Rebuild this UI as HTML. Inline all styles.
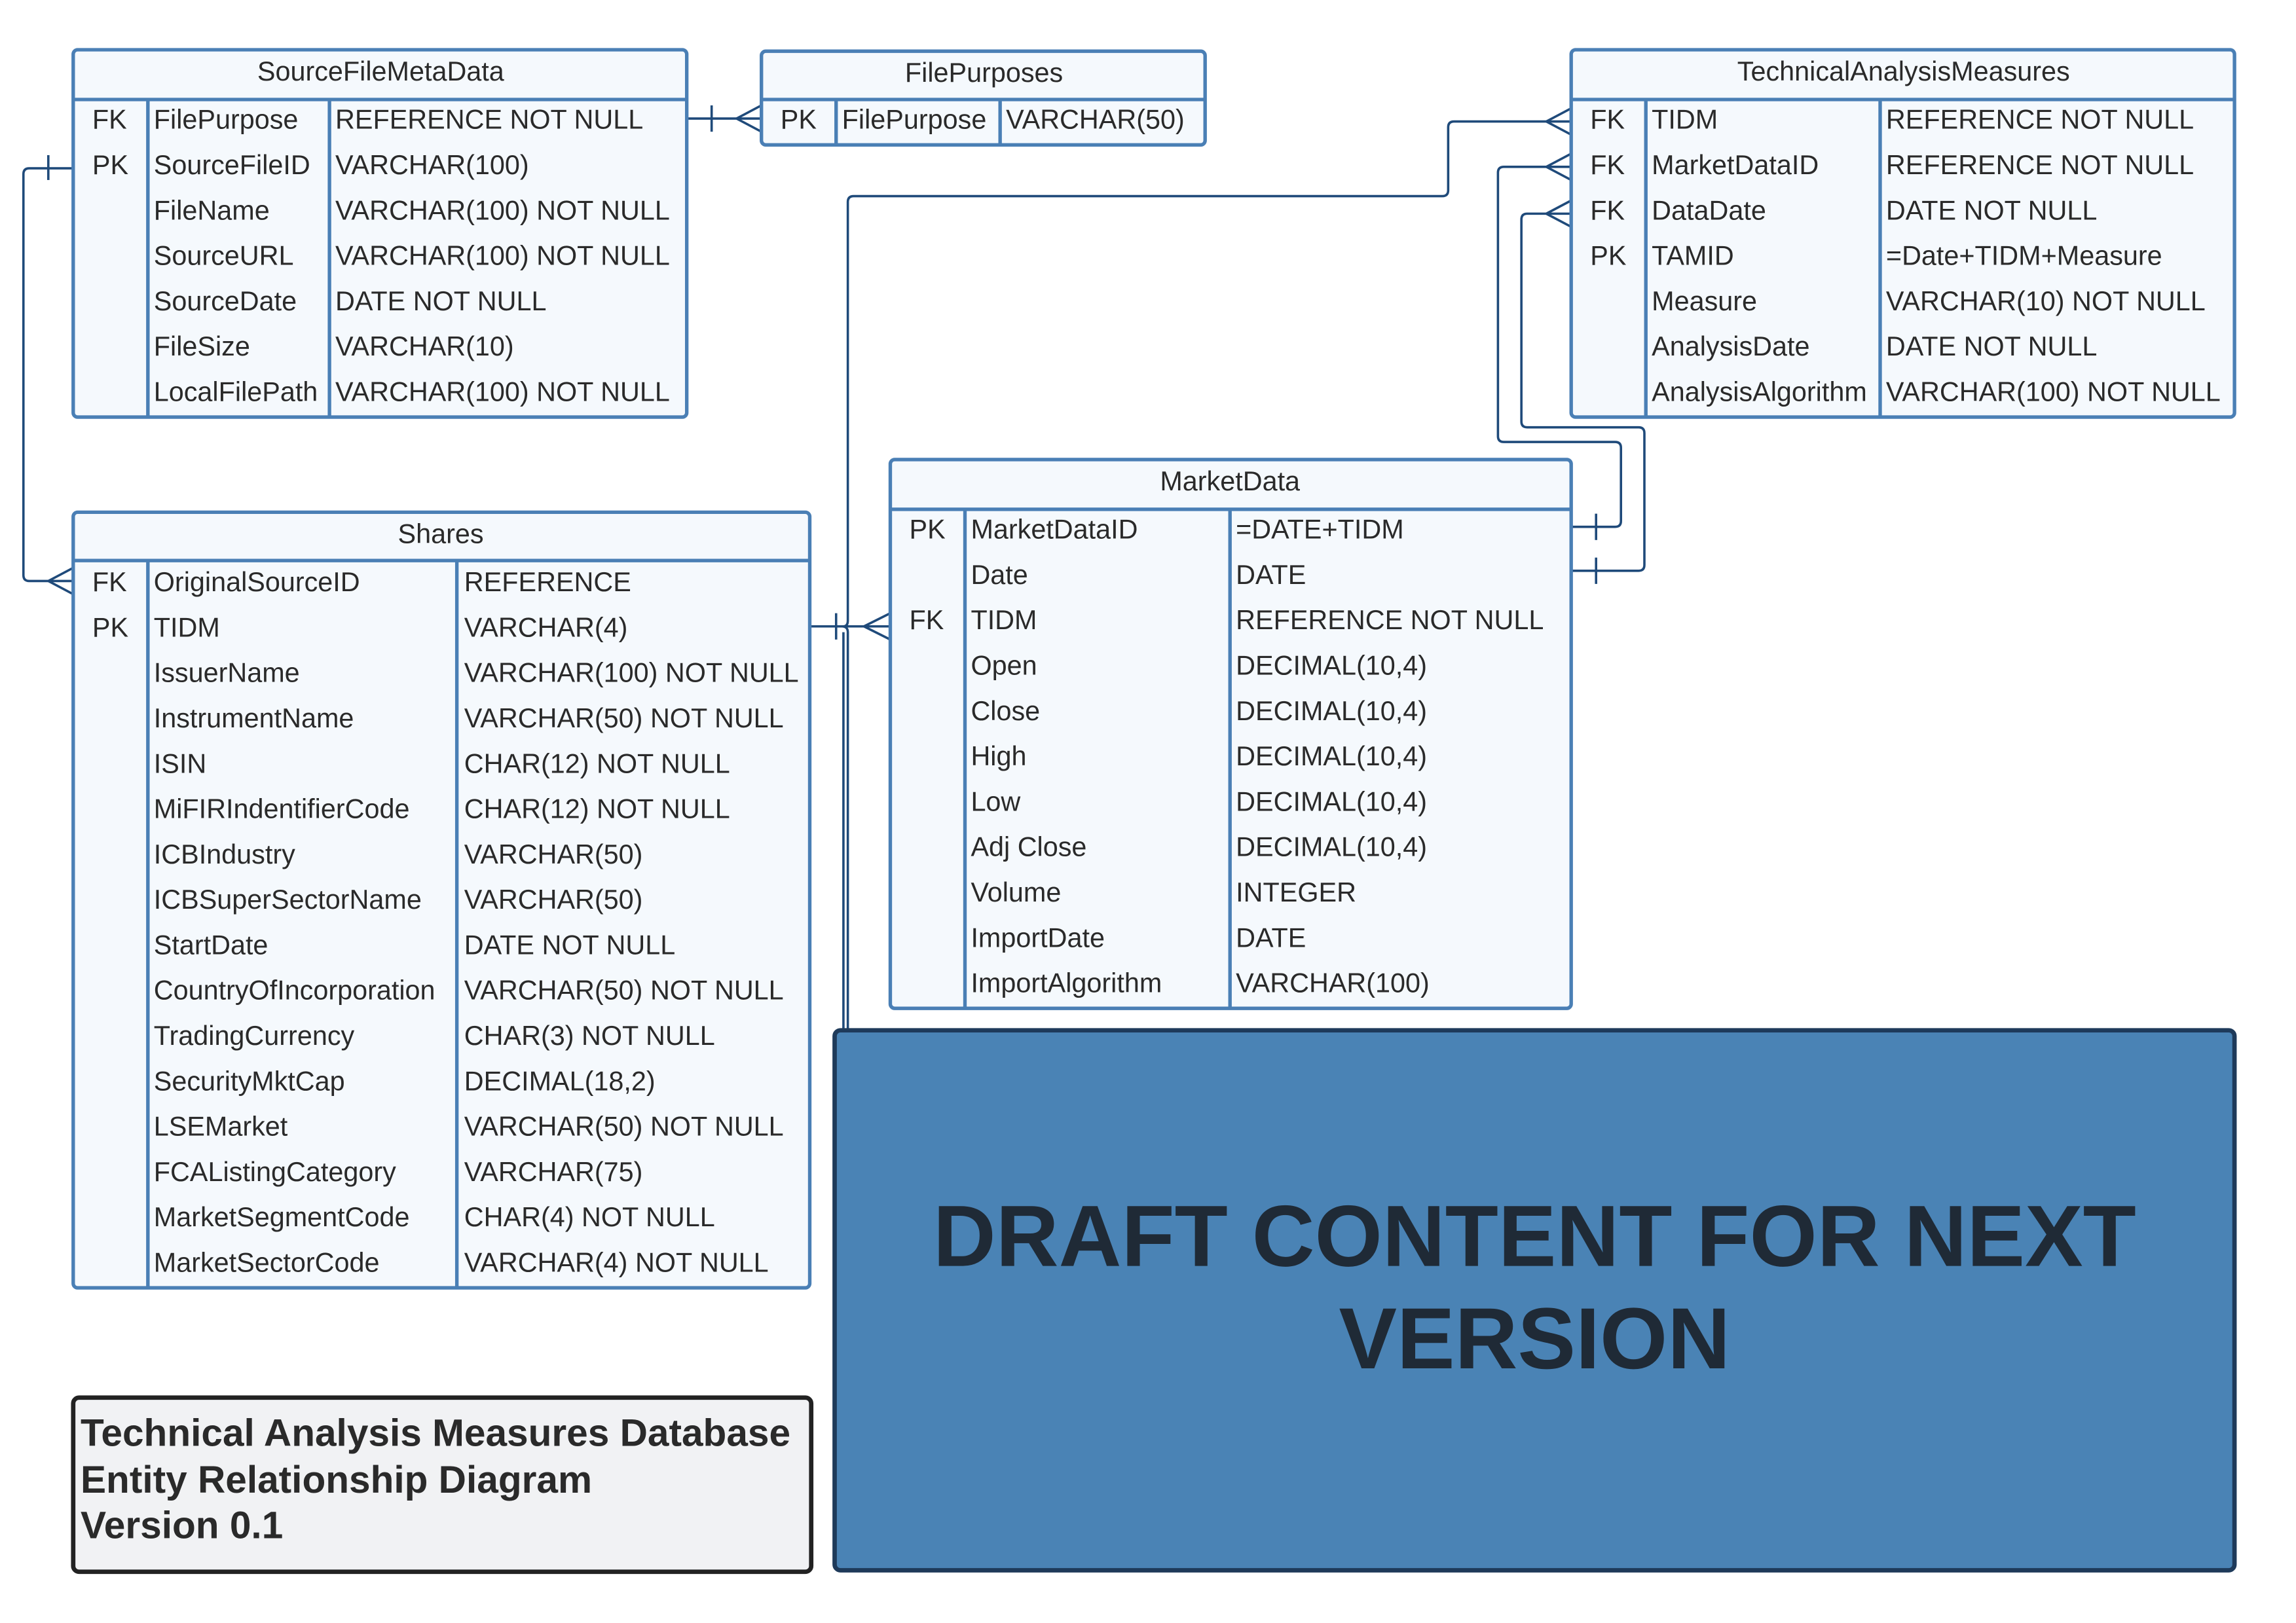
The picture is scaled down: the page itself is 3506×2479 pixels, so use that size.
<!DOCTYPE html>
<html><head><meta charset="utf-8"><style>
html,body{margin:0;padding:0;background:#fff;}
svg{display:block;}
text{font-family:"Liberation Sans",sans-serif;fill:#2a2a2a;}
</style></head><body>
<svg width="3506" height="2479" viewBox="0 0 1568 1109" preserveAspectRatio="none" xmlns="http://www.w3.org/2000/svg">
<g fill="none" stroke="#1f4a7a" stroke-width="1.6">
<path d="M469 81 H520"/><path d="M486 72 V90"/><path d="M503 81 L520 72 M503 81 L520 90"/>
<path d="M50 115 H20 Q16 115 16 119 V393 Q16 397 20 397 H50"/><path d="M33 106 V123"/><path d="M33 397 L50 388 M33 397 L50 406"/>
<path d="M553 428 H608"/><path d="M571 419 V437"/><path d="M590 428 L608 419 M590 428 L608 437"/>
<path d="M575 428 Q579 428 579 432 V704"/><path d="M576 432 V704"/>
<path d="M576 428 Q579 428 579 424 V138 Q579 134 583 134 H985 Q989 134 989 130 V87 Q989 83 993 83 H1073"/>
<path d="M1056 83 L1073 74 M1056 83 L1073 92"/>
<path d="M1073 360 H1103 Q1107 360 1107 356 V306 Q1107 302 1103 302 H1027 Q1023 302 1023 298 V118 Q1023 114 1027 114 H1073"/>
<path d="M1090 351 V369"/><path d="M1056 114 L1073 105 M1056 114 L1073 123"/>
<path d="M1073 390 H1119 Q1123 390 1123 386 V296 Q1123 292 1119 292 H1043 Q1039 292 1039 288 V150 Q1039 146 1043 146 H1073"/>
<path d="M1090 381 V399"/><path d="M1056 146 L1073 137 M1056 146 L1073 155"/>
</g>

<g fill="#f5f9fd" stroke="#4a7fb5" stroke-width="2.4">
<rect x="50" y="34" width="419" height="251" rx="3"/>
<path d="M50 68 H469 M101 68 V285 M225 68 V285"/>
<rect x="520" y="35" width="303" height="64" rx="3"/>
<path d="M520 68 H823 M571 68 V99 M683 68 V99"/>
<rect x="1073" y="34" width="453" height="251" rx="3"/>
<path d="M1073 68 H1526 M1124 68 V285 M1284 68 V285"/>
<rect x="608" y="314" width="465" height="375" rx="3"/>
<path d="M608 348 H1073 M659 348 V689 M840 348 V689"/>
<rect x="50" y="350" width="503" height="530" rx="3"/>
<path d="M50 383 H553 M101 383 V880 M312 383 V880"/>
</g>

<g font-size="18.5">
<text x="260" y="55" text-anchor="middle">SourceFileMetaData</text>
<text x="63" y="88">FK</text><text x="105" y="88">FilePurpose</text><text x="229" y="88">REFERENCE NOT NULL</text>
<text x="63" y="119">PK</text><text x="105" y="119">SourceFileID</text><text x="229" y="119">VARCHAR(100)</text>
<text x="105" y="150">FileName</text><text x="229" y="150">VARCHAR(100) NOT NULL</text>
<text x="105" y="181">SourceURL</text><text x="229" y="181">VARCHAR(100) NOT NULL</text>
<text x="105" y="212">SourceDate</text><text x="229" y="212">DATE NOT NULL</text>
<text x="105" y="243">FileSize</text><text x="229" y="243">VARCHAR(10)</text>
<text x="105" y="274">LocalFilePath</text><text x="229" y="274">VARCHAR(100) NOT NULL</text>

<text x="672" y="56" text-anchor="middle">FilePurposes</text>
<text x="533" y="88">PK</text><text x="575" y="88">FilePurpose</text><text x="687" y="88">VARCHAR(50)</text>

<text x="1300" y="55" text-anchor="middle">TechnicalAnalysisMeasures</text>
<text x="1086" y="88">FK</text><text x="1128" y="88">TIDM</text><text x="1288" y="88">REFERENCE NOT NULL</text>
<text x="1086" y="119">FK</text><text x="1128" y="119">MarketDataID</text><text x="1288" y="119">REFERENCE NOT NULL</text>
<text x="1086" y="150">FK</text><text x="1128" y="150">DataDate</text><text x="1288" y="150">DATE NOT NULL</text>
<text x="1086" y="181">PK</text><text x="1128" y="181">TAMID</text><text x="1288" y="181">=Date+TIDM+Measure</text>
<text x="1128" y="212">Measure</text><text x="1288" y="212">VARCHAR(10) NOT NULL</text>
<text x="1128" y="243">AnalysisDate</text><text x="1288" y="243">DATE NOT NULL</text>
<text x="1128" y="274">AnalysisAlgorithm</text><text x="1288" y="274">VARCHAR(100) NOT NULL</text>

<text x="840" y="335" text-anchor="middle">MarketData</text>
<text x="621" y="368">PK</text><text x="663" y="368">MarketDataID</text><text x="844" y="368">=DATE+TIDM</text>
<text x="663" y="399">Date</text><text x="844" y="399">DATE</text>
<text x="621" y="430">FK</text><text x="663" y="430">TIDM</text><text x="844" y="430">REFERENCE NOT NULL</text>
<text x="663" y="461">Open</text><text x="844" y="461">DECIMAL(10,4)</text>
<text x="663" y="492">Close</text><text x="844" y="492">DECIMAL(10,4)</text>
<text x="663" y="523">High</text><text x="844" y="523">DECIMAL(10,4)</text>
<text x="663" y="554">Low</text><text x="844" y="554">DECIMAL(10,4)</text>
<text x="663" y="585">Adj Close</text><text x="844" y="585">DECIMAL(10,4)</text>
<text x="663" y="616">Volume</text><text x="844" y="616">INTEGER</text>
<text x="663" y="647">ImportDate</text><text x="844" y="647">DATE</text>
<text x="663" y="678">ImportAlgorithm</text><text x="844" y="678">VARCHAR(100)</text>

<text x="301" y="371" text-anchor="middle">Shares</text>
<text x="63" y="404">FK</text><text x="105" y="404">OriginalSourceID</text><text x="317" y="404">REFERENCE</text>
<text x="63" y="435">PK</text><text x="105" y="435">TIDM</text><text x="317" y="435">VARCHAR(4)</text>
<text x="105" y="466">IssuerName</text><text x="317" y="466">VARCHAR(100) NOT NULL</text>
<text x="105" y="497">InstrumentName</text><text x="317" y="497">VARCHAR(50) NOT NULL</text>
<text x="105" y="528">ISIN</text><text x="317" y="528">CHAR(12) NOT NULL</text>
<text x="105" y="559">MiFIRIndentifierCode</text><text x="317" y="559">CHAR(12) NOT NULL</text>
<text x="105" y="590">ICBIndustry</text><text x="317" y="590">VARCHAR(50)</text>
<text x="105" y="621">ICBSuperSectorName</text><text x="317" y="621">VARCHAR(50)</text>
<text x="105" y="652">StartDate</text><text x="317" y="652">DATE NOT NULL</text>
<text x="105" y="683">CountryOfIncorporation</text><text x="317" y="683">VARCHAR(50) NOT NULL</text>
<text x="105" y="714">TradingCurrency</text><text x="317" y="714">CHAR(3) NOT NULL</text>
<text x="105" y="745">SecurityMktCap</text><text x="317" y="745">DECIMAL(18,2)</text>
<text x="105" y="776">LSEMarket</text><text x="317" y="776">VARCHAR(50) NOT NULL</text>
<text x="105" y="807">FCAListingCategory</text><text x="317" y="807">VARCHAR(75)</text>
<text x="105" y="838">MarketSegmentCode</text><text x="317" y="838">CHAR(4) NOT NULL</text>
<text x="105" y="869">MarketSectorCode</text><text x="317" y="869">VARCHAR(4) NOT NULL</text>
</g>

<rect x="50" y="955" width="504" height="119" rx="4" fill="#f1f2f4" stroke="#222" stroke-width="3"/>
<g font-size="26.2" font-weight="bold">
<text x="55" y="988" fill="#222">Technical Analysis Measures Database</text>
<text x="55" y="1020" fill="#222">Entity Relationship Diagram</text>
<text x="55" y="1051" fill="#222">Version 0.1</text>
</g>

<rect x="570" y="704" width="956" height="369" rx="4" fill="#4a83b5" stroke="#1e3a5a" stroke-width="3"/>
<g font-size="59.4" font-weight="bold" text-anchor="middle">
<text x="1048" y="865" style="fill:#1f2a36">DRAFT CONTENT FOR NEXT</text>
<text x="1048" y="935" style="fill:#1f2a36">VERSION</text>
</g>
</svg>
</body></html>
